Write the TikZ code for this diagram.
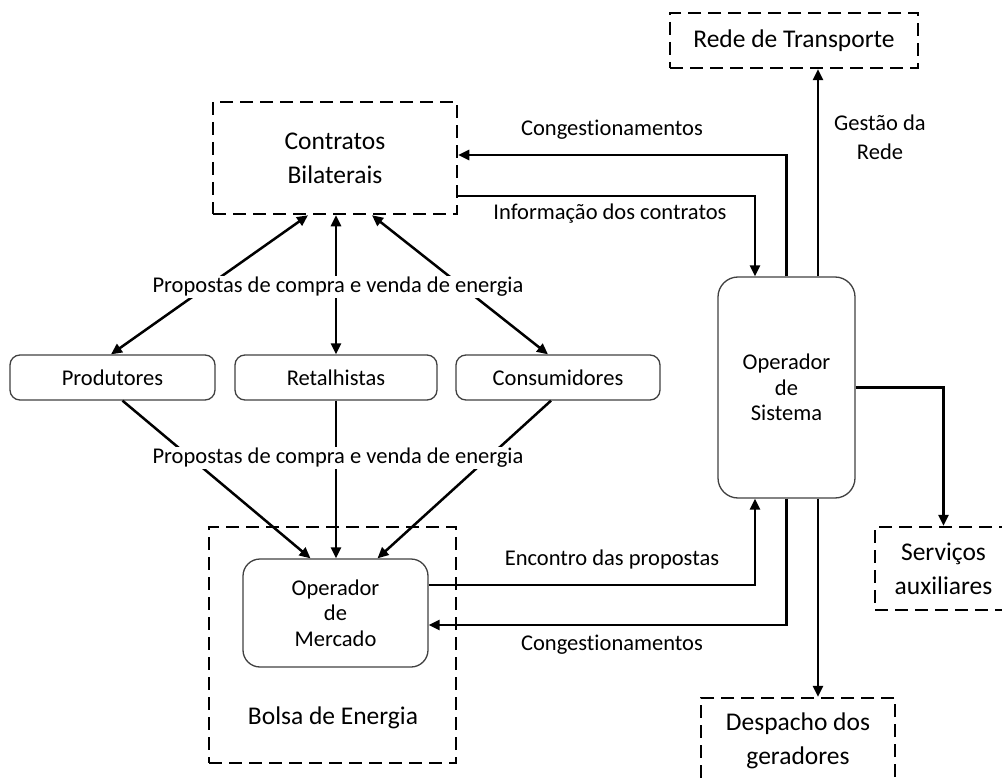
\documentclass[tikz,border=0pt]{standalone}
\usepackage{fontspec}
\setmainfont{Carlito}[Ligatures=NoCommon]
\usetikzlibrary{arrows.meta,positioning}

\tikzset{
  dbox/.style={draw, line width=2.5pt, dash pattern=on 13pt off 7pt, align=center, inner sep=0pt},
  rbox/.style={draw=black!75, line width=1.3pt, rounded corners=10pt, align=center, inner sep=0pt},
  conn/.style={line width=2.5pt, -{Triangle[length=11pt,width=10pt]}},
  both/.style={line width=2.5pt, {Triangle[length=11pt,width=10pt]}-{Triangle[length=11pt,width=10pt]}},
  big/.style={font=\fontsize{22.5}{34}\selectfont},
  title/.style={font=\fontsize{25.5}{34}\selectfont},
  tight/.style={font=\fontsize{22.5}{25.5}\selectfont},
}

\begin{document}
\begin{tikzpicture}[x=1pt,y=-1pt]
\useasboundingbox (0,0) rectangle (1002,781);

% caixas tracejadas
\node[dbox,title,minimum width=248pt,minimum height=55pt] (RT) at (794,40.5) {Rede de Transporte};
\node[dbox,title,minimum width=244pt,minimum height=112pt] (CB) at (335,158) {Contratos\\Bilaterais};
\node[dbox,title,minimum width=137pt,minimum height=83pt] (SA) at (943.5,568.5) {Serviços\\auxiliares};
\node[dbox,title,minimum width=194pt,minimum height=85pt] (DG) at (798,740.5) {Despacho dos\\geradores};
\node[dbox,minimum width=247pt,minimum height=236pt] (BE) at (332.5,645) {};
\node[title] (BElbl) at (333,718) {Bolsa de Energia};

% caixas arredondadas
\node[rbox,tight,rounded corners=20pt,minimum width=137pt,minimum height=221pt] (OS) at (786.5,387.5) {Operador\\de\\Sistema};
\node[rbox,tight,rounded corners=17pt,minimum width=185pt,minimum height=108pt] (OM) at (335.5,613) {Operador\\de\\Mercado};
\node[rbox,tight,minimum width=205pt,minimum height=45pt] (PR) at (112.5,377.5) {Produtores};
\node[rbox,tight,minimum width=202pt,minimum height=45pt] (RE) at (336,377.5) {Retalhistas};
\node[rbox,tight,minimum width=204pt,minimum height=45pt] (CO) at (558,377.5) {Consumidores};

% operador de sistema
\draw[conn] (OS.north) |- ([yshift=3pt]CB.east);
\draw[conn] ([yshift=-38pt]CB.east) -| ([xshift=-31.5pt]OS.north);
\draw[conn] ([xshift=31.5pt]OS.north) -- ([xshift=31.5pt]OS.north |- RT.south);
\draw[conn] (OS.east) -| (SA.north);
\draw[conn] ([xshift=31.5pt]OS.south) -- ([xshift=31.5pt]OS.south |- DG.north);
\draw[conn] ([yshift=28pt]OM.east) -| ([xshift=-31.5pt]OS.south);
\draw[conn] (OS.south) |- ([yshift=-12pt]OM.east);

% propostas
\draw[both] ([xshift=-1.5pt]PR.north) -- ([xshift=-27pt]CB.south);
\draw[both] (RE.north) -- (RE.north |- CB.south);
\draw[both] ([xshift=-10pt]CO.north) -- ([xshift=37pt]CB.south);
\draw[conn] ([xshift=10pt]PR.south) -- ([xshift=-25pt]OM.north);
\draw[conn] (RE.south) -- (RE.south |- OM.north);
\draw[conn] ([xshift=-7pt]CO.south) -- ([xshift=42pt]OM.north);

% rotulos
\node[big] (l1) at (612,130) {Congestionamentos};
\node[big] (l2) at (610,214) {Informação dos contratos};
\node[big,align=center,font=\fontsize{22.5}{29}\selectfont] (l3) at (880,137) {Gestão da\\Rede};
\node[big] (l4) at (612,559) {Encontro das propostas};
\node[big] (l5) at (612,645) {Congestionamentos};
\node[big,fill=white,inner sep=1pt] (p1) at (338,287) {Propostas de compra e venda de energia};
\node[big,fill=white,inner sep=1pt] (p2) at (338,458) {Propostas de compra e venda de energia};
\end{tikzpicture}
\end{document}
